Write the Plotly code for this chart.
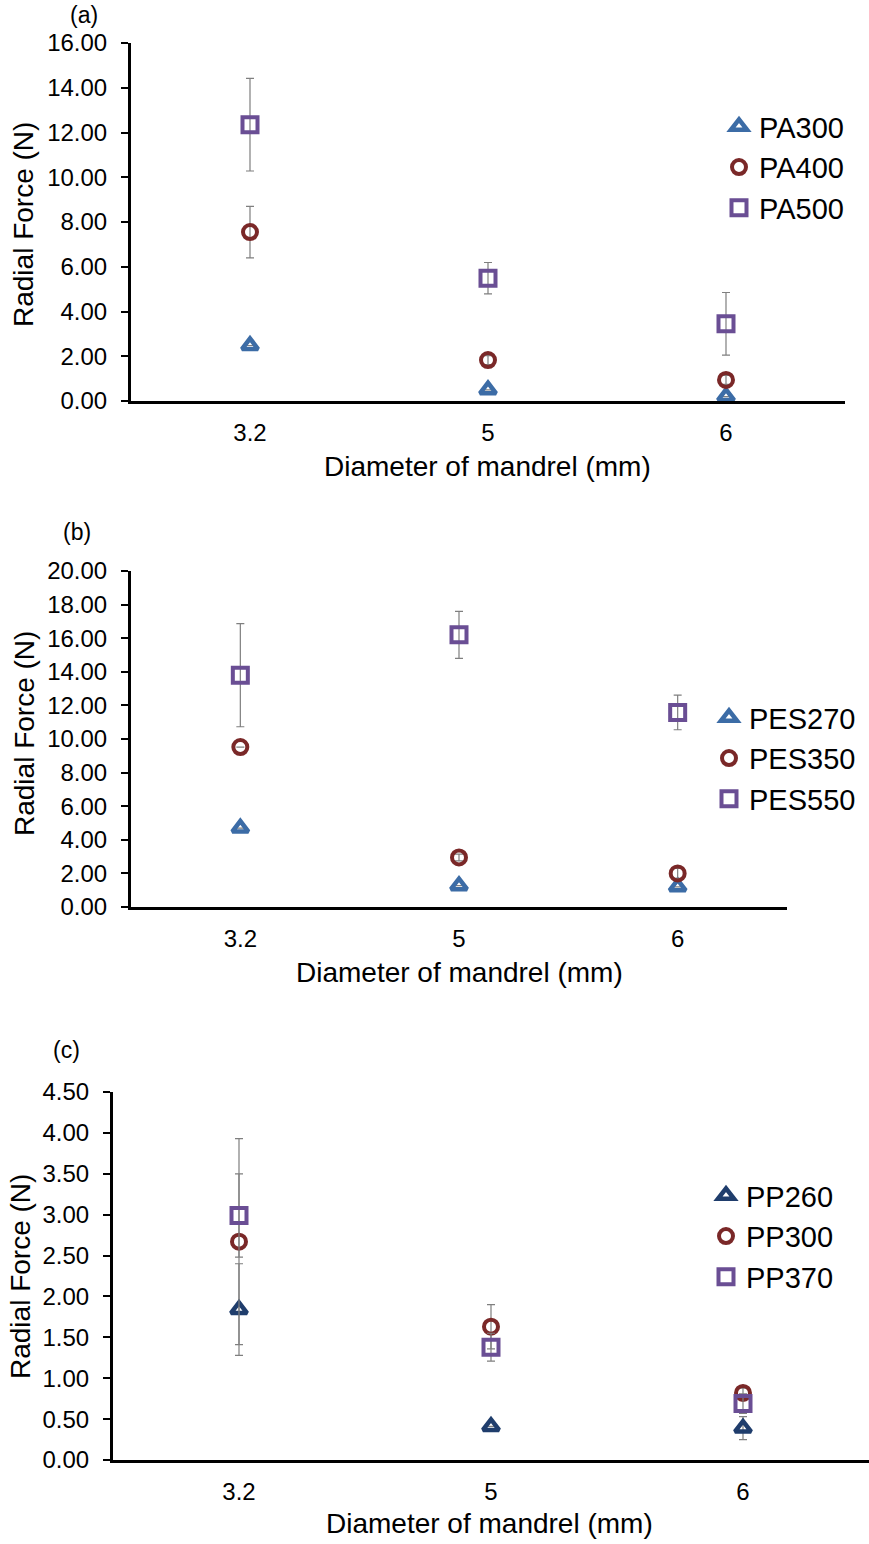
import plotly.graph_objects as go

# ---------------- data ----------------
categories = ["3.2", "5", "6"]

# panel (a)
pa300 = [2.48, 0.50, 0.20]
pa300_err = [0.0, 0.0, 0.0]
pa400 = [7.55, 1.83, 0.94]
pa400_err = [1.15, 0.20, 0.20]
pa500 = [12.35, 5.49, 3.45]
pa500_err = [2.07, 0.70, 1.40]

# panel (b)
pes270 = [4.70, 1.27, 1.20]
pes270_err = [0.0, 0.0, 0.0]
pes350 = [9.52, 2.95, 2.00]
pes350_err = [0.0, 0.20, 0.30]
pes550 = [13.80, 16.20, 11.58]
pes550_err = [3.07, 1.40, 1.03]

# panel (c)
pp260 = [1.84, 0.41, 0.39]
pp260_err = [0.56, 0.0, 0.14]
pp300 = [2.67, 1.63, 0.82]
pp300_err = [1.26, 0.27, 0.06]
pp370 = [2.99, 1.38, 0.69]
pp370_err = [0.51, 0.17, 0.12]

# ---------------- style ----------------
FONT = "Liberation Sans, Arial, sans-serif"
C_TRI = "#3C6CA6"
C_TRI_C = "#1F3D6C"
C_CIR = "#7A2828"
C_SQR = "#6A4E94"
ERR_C = "#7F7F7F"
W, H = 869, 1544

fig = go.Figure()


def add_series(name, y, err, color, symbol, size, lw, xa, ya, legend):
    fig.add_trace(go.Scatter(
        x=categories, y=y, name=name, mode="markers",
        xaxis=xa, yaxis=ya, legend=legend, cliponaxis=False,
        marker=dict(symbol=symbol, size=size, color=color,
                    line=dict(color=color, width=lw)),
        error_y=dict(type="data", array=err, visible=True,
                     color=ERR_C, thickness=1.2, width=4),
    ))


add_series("PA300", pa300, pa300_err, C_TRI, "triangle-up-open", 14, 4.5, "x", "y", "legend")
add_series("PA400", pa400, pa400_err, C_CIR, "circle-open", 14, 4, "x", "y", "legend")
add_series("PA500", pa500, pa500_err, C_SQR, "square-open", 15, 4, "x", "y", "legend")

add_series("PES270", pes270, pes270_err, C_TRI, "triangle-up-open", 14, 4.5, "x2", "y2", "legend2")
add_series("PES350", pes350, pes350_err, C_CIR, "circle-open", 14, 4, "x2", "y2", "legend2")
add_series("PES550", pes550, pes550_err, C_SQR, "square-open", 15, 4, "x2", "y2", "legend2")

add_series("PP260", pp260, pp260_err, C_TRI_C, "triangle-up-open", 14, 4.5, "x3", "y3", "legend3")
add_series("PP300", pp300, pp300_err, C_CIR, "circle-open", 14, 4, "x3", "y3", "legend3")
add_series("PP370", pp370, pp370_err, C_SQR, "square-open", 15, 4, "x3", "y3", "legend3")


def px_x(p):
    return p / W


def px_y(p):
    return 1 - p / H


def xaxis(dom):
    return dict(domain=dom, type="category", range=[-0.5, 2.5], automargin=False,
                showline=True, linecolor="black", linewidth=3,
                ticks="", showgrid=False, zeroline=False,
                tickfont=dict(family=FONT, size=24, color="black"),
                ticklabelstandoff=8)


def yaxis(dom, anchor, rng, dtick):
    return dict(domain=dom, anchor=anchor, range=rng, dtick=dtick, automargin=False,
                tickformat=".2f", showline=True, linecolor="black", linewidth=3,
                ticks="outside", ticklen=7, tickwidth=2, tickcolor="black",
                showgrid=False, zeroline=False,
                tickfont=dict(family=FONT, size=24, color="black"),
                ticklabelstandoff=9)


LEG_FONT = dict(family=FONT, size=29, color="black")
fig.update_layout(
    width=W, height=H,
    margin=dict(l=0, r=0, t=0, b=0, pad=0, autoexpand=False),
    paper_bgcolor="white", plot_bgcolor="white",
    font=dict(family=FONT, color="black"),
    xaxis=dict(**xaxis([px_x(131), px_x(845)]), anchor="y"),
    yaxis=yaxis([px_y(401), px_y(43)], "x", [0, 16], 2),
    xaxis2=dict(**xaxis([px_x(131), px_x(787)]), anchor="y2"),
    yaxis2=yaxis([px_y(907), px_y(571)], "x2", [0, 20], 2),
    xaxis3=dict(**xaxis([px_x(113), 1.0]), anchor="y3"),
    yaxis3=yaxis([px_y(1460), px_y(1092)], "x3", [0, 4.5], 0.5),
    legend=dict(x=px_x(719), y=px_y(101), xanchor="left", yanchor="top",
                font=LEG_FONT, bgcolor="rgba(0,0,0,0)", tracegroupgap=0, itemwidth=30),
    legend2=dict(x=px_x(709), y=px_y(692), xanchor="left", yanchor="top",
                 font=LEG_FONT, bgcolor="rgba(0,0,0,0)", tracegroupgap=0, itemwidth=30),
    legend3=dict(x=px_x(706), y=px_y(1170), xanchor="left", yanchor="top",
                 font=LEG_FONT, bgcolor="rgba(0,0,0,0)", tracegroupgap=0, itemwidth=30),
)

ann = []
TITLE_FONT = dict(family=FONT, size=28, color="black")
for xt, yt in [(487, 467), (459, 972), (489, 1523)]:
    ann.append(dict(text="Diameter of mandrel (mm)", x=px_x(xt), y=px_y(yt),
                    xref="paper", yref="paper", showarrow=False,
                    xanchor="center", yanchor="middle", font=TITLE_FONT))
for xt, yt in [(24, 225), (24, 734), (20, 1277)]:
    ann.append(dict(text="Radial Force (N)", x=px_x(xt), y=px_y(yt),
                    xref="paper", yref="paper", showarrow=False, textangle=-90,
                    xanchor="center", yanchor="middle", font=TITLE_FONT))
for lbl, xt, yt in [("(a)", 84, 15), ("(b)", 77, 532), ("(c)", 66, 1050)]:
    ann.append(dict(text=lbl, x=px_x(xt), y=px_y(yt),
                    xref="paper", yref="paper", showarrow=False,
                    xanchor="center", yanchor="middle",
                    font=dict(family=FONT, size=23, color="black")))
fig.update_layout(annotations=ann)

fig.write_html(
    "out.html",
    config={"displayModeBar": False},
    post_script=(
        "document.body.style.margin='0';"
        "document.body.style.overflow='hidden';"
    ),
)
